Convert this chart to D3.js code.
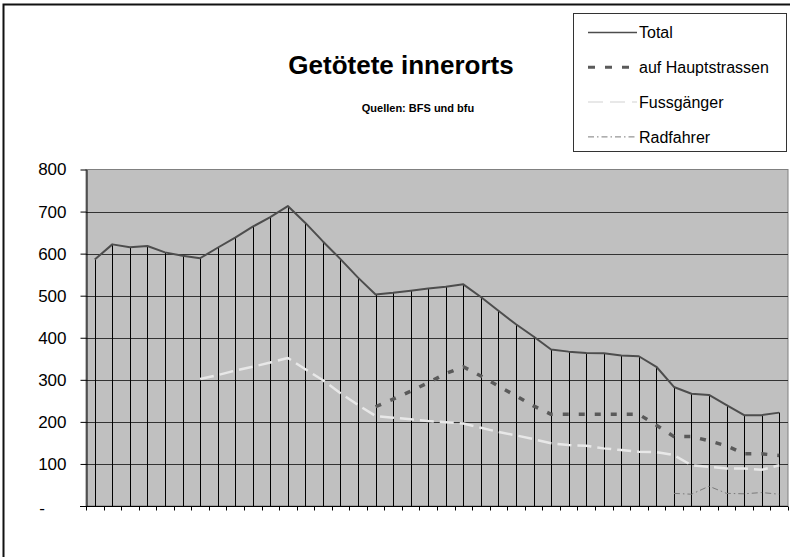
<!DOCTYPE html>
<html>
<head>
<meta charset="utf-8">
<script src="https://cdn.jsdelivr.net/npm/d3@7"></script>
<style>
  body { margin: 0; background: #fff; }
  svg { font-family: "Liberation Sans", Arial, sans-serif; }
</style>
</head>
<body>
<div id="chart"></div>
<script>
// years (not shown as labels in the chart)
var years = [1960, 1961, 1962, 1963, 1964, 1965, 1966, 1967, 1968, 1969,
    1970, 1971, 1972, 1973, 1974, 1975, 1976, 1977, 1978, 1979,
    1980, 1981, 1982, 1983, 1984, 1985, 1986, 1987, 1988, 1989,
    1990, 1991, 1992, 1993, 1994, 1995, 1996, 1997, 1998, 1999];

var total = [586, 622, 615, 618, 603, 595, 589, 614, 638, 664,
    687, 713, 673, 629, 587, 543, 503, 507, 512, 517,
    521, 527, 497, 464, 432, 403, 372, 367, 364, 363,
    358, 356, 331, 283, 267, 264, 240, 216, 216, 222];

var hauptstrassen = [null, null, null, null, null, null, null, null, null, null,
    null, null, null, null, null, null, 236, 254, 273, 293,
    315, 331, 309, 285, 262, 238, 218, 218, 218, 218,
    218, 218, 192, 165, 165, 155, 143, 124, 124, 120];

var fussgaenger = [null, null, null, null, null, null, 302, 311, 322, 331,
    341, 352, 325, 299, 268, 240, 214, 210, 206, 202,
    199, 196, 186, 176, 168, 159, 149, 145, 143, 137,
    133, 129, 128, 121, 97, 93, 89, 89, 86, 97];

var radfahrer = [null, null, null, null, null, null, null, null, null, null,
    null, null, null, null, null, null, null, null, null, null,
    null, null, null, null, null, null, null, null, null, null,
    null, null, null, 30, 28, 47, 30, 29, 32, 28];

var yTicks = [0, 100, 200, 300, 400, 500, 600, 700, 800];

var seriesNames = ["Total", "auf Hauptstrassen", "Fussgänger", "Radfahrer"];

var width = 790, height = 557;

var svg = d3.select("#chart")
    .append("svg")
    .attr("width", width)
    .attr("height", height);

// outer chart border (right/bottom run off the picture)
svg.append("rect")
    .attr("x", 3.5).attr("y", 4.5)
    .attr("width", 820).attr("height", 600)
    .attr("fill", "none")
    .attr("stroke", "#111")
    .attr("stroke-width", 2);

var xScale = d3.scaleBand().domain(years).range([86, 788]);
var yScale = d3.scaleLinear().domain([0, 800]).range([506, 169.5]);

var cx = function (i) { return Math.round(xScale(years[i]) + xScale.bandwidth() / 2) + 0.5; };

// plot area
svg.append("rect")
    .attr("x", 86).attr("y", yScale(800))
    .attr("width", 702).attr("height", yScale(0) - yScale(800))
    .attr("fill", "#c0c0c0")
    .attr("stroke", "#808080")
    .attr("stroke-width", 1);

// horizontal gridlines
svg.append("g")
    .selectAll("line")
    .data(yTicks.filter(function (d) { return d > 0 && d < 800; }))
    .enter()
    .append("line")
    .attr("x1", 86).attr("x2", 788)
    .attr("y1", function (d) { return Math.round(yScale(d)) + 0.5; })
    .attr("y2", function (d) { return Math.round(yScale(d)) + 0.5; })
    .attr("stroke", "#333")
    .attr("stroke-width", 1);

// drop lines from total to axis
svg.append("g")
    .selectAll("line")
    .data(total)
    .enter()
    .append("line")
    .attr("x1", function (d, i) { return cx(i); })
    .attr("x2", function (d, i) { return cx(i); })
    .attr("y1", function (d) { return yScale(d); })
    .attr("y2", yScale(0))
    .attr("stroke", "#000")
    .attr("stroke-width", 1);

// y axis
var yAxis = svg.append("g")
    .attr("transform", "translate(86.5,0)")
    .call(d3.axisLeft(yScale).tickValues(yTicks).tickSize(6).tickSizeOuter(0)
        .tickFormat(function (d) { return d === 0 ? "" : d; }));
yAxis.select(".domain").attr("stroke", "#000");
yAxis.selectAll(".tick line").attr("stroke", "#000");
yAxis.selectAll(".tick text")
    .attr("x", -20)
    .attr("fill", "#000")
    .style("font-size", "17px")
    .style("font-family", "Liberation Sans, Arial, sans-serif");

svg.append("text")
    .attr("x", 42).attr("y", 514)
    .attr("text-anchor", "middle")
    .style("font-size", "17px")
    .text("-");

// x axis, ticks between categories, no labels
var xAxis = svg.append("g")
    .attr("transform", "translate(0," + (Math.round(yScale(0)) + 0.5) + ")");
xAxis.append("line")
    .attr("x1", 80).attr("x2", 788)
    .attr("stroke", "#000");
xAxis.selectAll(".xt")
    .data(years.concat(["end"]))
    .enter()
    .append("line")
    .attr("class", "xt")
    .attr("x1", function (d, i) { return Math.round(i < years.length ? xScale(d) : 788) + 0.5; })
    .attr("x2", function (d, i) { return Math.round(i < years.length ? xScale(d) : 788) + 0.5; })
    .attr("y1", 0).attr("y2", 4)
    .attr("stroke", "#000");

// series lines
var styles = [
    { data: total, color: "#4d4d4d", width: 2, dash: null, legendW: 1.5, legendEnd: 637 },
    { data: hauptstrassen, color: "#5a5a5a", width: 3.5, dash: "6,10", legendW: 3, legendEnd: 630, legendDash: "7,10" },
    { data: fussgaenger, color: "#e8e8e8", width: 2.5, dash: "14,6", legendW: 2, legendEnd: 637, legendDash: "15,7" },
    { data: radfahrer, color: "#7a7a7a", width: 1, dash: "6,3,1.5,3", legendW: 1, legendEnd: 637, legendDash: "6,3,1.5,3" }
];

var line = d3.line()
    .defined(function (d) { return d != null; })
    .x(function (d, i) { return xScale(years[i]) + xScale.bandwidth() / 2; })
    .y(function (d) { return yScale(d); });

// draw back to front so Total sits on top
styles.slice().reverse().forEach(function (s) {
    svg.append("path")
        .datum(s.data)
        .attr("d", line)
        .attr("fill", "none")
        .attr("stroke", s.color)
        .attr("stroke-width", s.width)
        .attr("stroke-dasharray", s.dash)
        .attr("stroke-linejoin", "round");
});

// title
svg.append("text")
    .attr("x", 401).attr("y", 74)
    .attr("text-anchor", "middle")
    .style("font-size", "26px")
    .style("font-weight", "bold")
    .text("Getötete innerorts");

svg.append("text")
    .attr("x", 418).attr("y", 112)
    .attr("text-anchor", "middle")
    .style("font-size", "11px")
    .style("font-weight", "bold")
    .text("Quellen: BFS und bfu");

// legend
var legend = svg.append("g");
legend.append("rect")
    .attr("x", 573.5).attr("y", 13.5)
    .attr("width", 213).attr("height", 138)
    .attr("fill", "#fff")
    .attr("stroke", "#333");

seriesNames.forEach(function (name, i) {
    var y = 32.5 + i * 34.8;
    legend.append("line")
        .attr("x1", 588).attr("x2", styles[i].legendEnd)
        .attr("y1", y).attr("y2", y)
        .attr("stroke", styles[i].color)
        .attr("stroke-width", styles[i].legendW)
        .attr("stroke-dasharray", styles[i].legendDash || null);
    legend.append("text")
        .attr("x", 639).attr("y", y)
        .attr("dy", "0.35em")
        .style("font-size", "16px")
        .text(name);
});
</script>
</body>
</html>
